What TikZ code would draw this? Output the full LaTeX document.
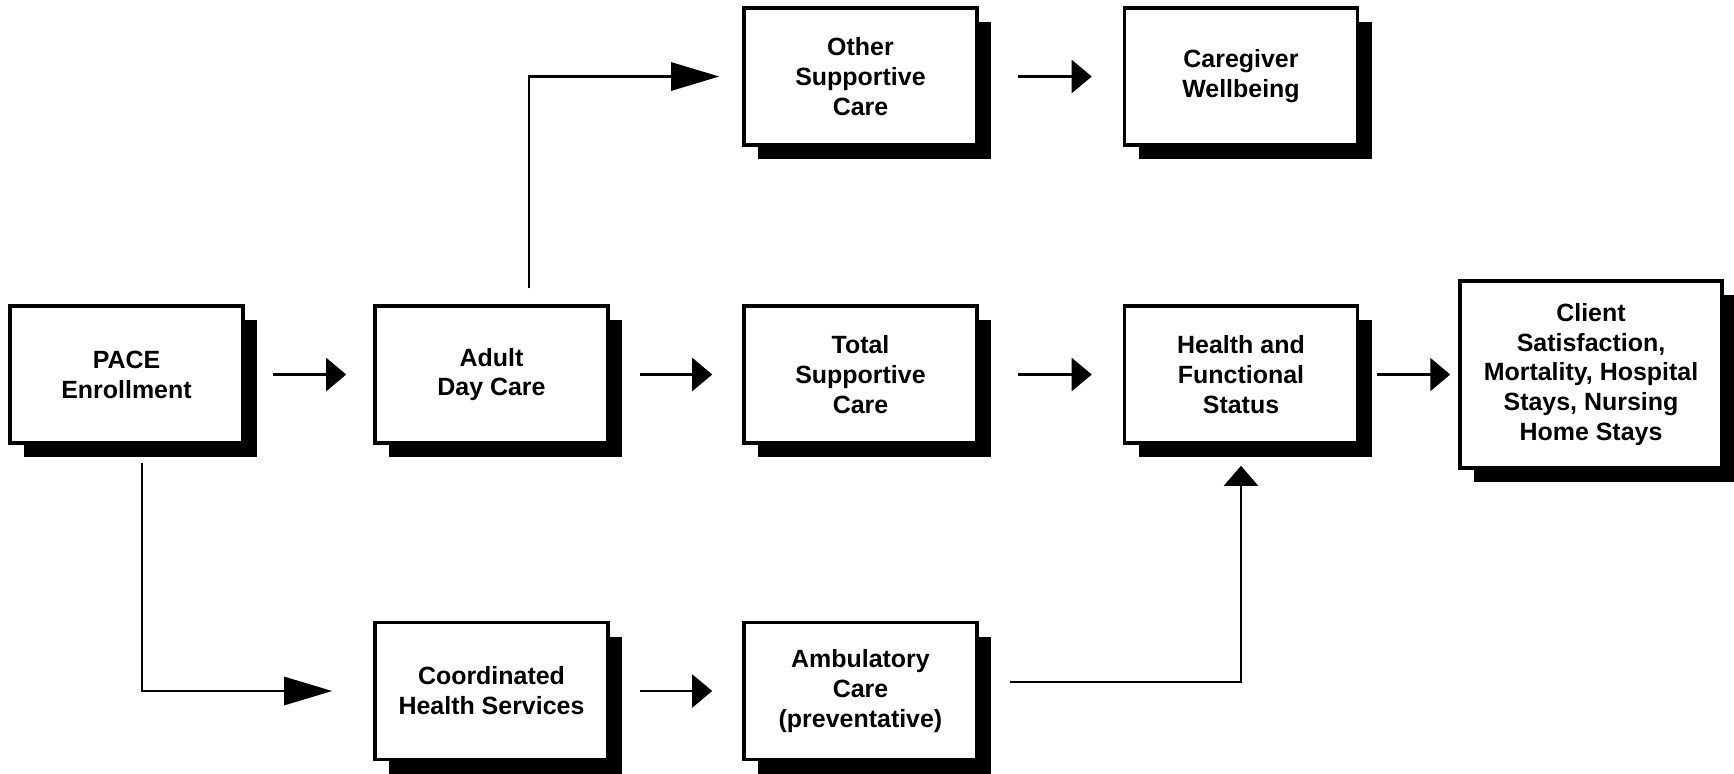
\documentclass[tikz,border=0pt]{standalone}
\usepackage{fontspec}
\setmainfont{Liberation Sans}
\usetikzlibrary{positioning}
\usetikzlibrary{calc,shadows,arrows.meta}

\begin{document}
\begin{tikzpicture}[every node/.style={font=\bfseries\fontsize{7.1}{8.5}\selectfont},on grid]

	\tikzstyle{block}=[rectangle,draw=black,line width=1pt,fill=white,align=center,
	minimum width=2.33cm,minimum height=1.37cm,inner sep=0pt,
	drop shadow={shadow xshift=0.14cm,shadow yshift=-0.14cm,fill=black,opacity=1}]
	\tikzstyle{big block}=[block,minimum width=2.62cm,minimum height=1.87cm]
	\tikzstyle{link}=[line width=0.6pt,-{Triangle[length=2mm,width=3.3mm]}]
	\tikzstyle{long link}=[line width=0.8pt,-{Triangle[length=4.8mm,width=2.8mm]}]

	\useasboundingbox (0,0) rectangle (17.34,-7.73);

	% middle row:
	\node [block] at (1.265,-3.745) (pace) {PACE\\Enrollment};
	\node [block,right=3.65 of pace] (adult) {Adult\\Day Care};
	\node [block,right=3.69 of adult] (total) {Total\\Supportive\\Care};
	\node [block,right=3.805 of total] (health) {Health and\\Functional\\Status};
	\node [big block,right=3.5 of health] (client) {Client\\Satisfaction,\\Mortality, Hospital\\Stays, Nursing\\Home Stays};

	% top and bottom rows:
	\node [block] at (8.605,-0.765) (other) {Other\\Supportive\\Care};
	\node [block,right=3.805 of other] (carer) {Caregiver\\Wellbeing};
	\node [block] at (4.915,-6.91) (coord) {Coordinated\\Health Services};
	\node [block,right=3.69 of coord] (ambul) {Ambulatory\\Care\\(preventative)};

	\draw[link,shorten <=0.28cm,shorten >=0.27cm] (pace) -- (adult);
	\draw[link,shorten <=0.30cm,shorten >=0.30cm] (adult) -- (total);
	\draw[link,shorten <=0.39cm,shorten >=0.31cm] (total) -- (health);
	\draw[link,shorten <=0.18cm,shorten >=0.08cm] (health) -- (client);
	\draw[link,shorten <=0.39cm,shorten >=0.31cm] (other) -- (carer);
	\draw[link,shorten <=0.30cm,shorten >=0.30cm] (coord) -- (ambul);

	\coordinate (adult up) at ($(adult.north)+(0.375,0.16)$);
	\coordinate (pace down) at ($(pace.south)+(0.155,-0.18)$);
	\coordinate (ambul out) at ($(ambul.east)+(0.31,0.09)$);
	\draw[long link,shorten >=0.23cm] (adult up) |- (other);
	\draw[long link,shorten >=0.41cm] (pace down) |- (coord);
	\draw[line width=0.6pt,-{Triangle[length=2mm,width=3.4mm]},shorten >=0.21cm] (ambul out) -| (health);

\end{tikzpicture}
\end{document}
